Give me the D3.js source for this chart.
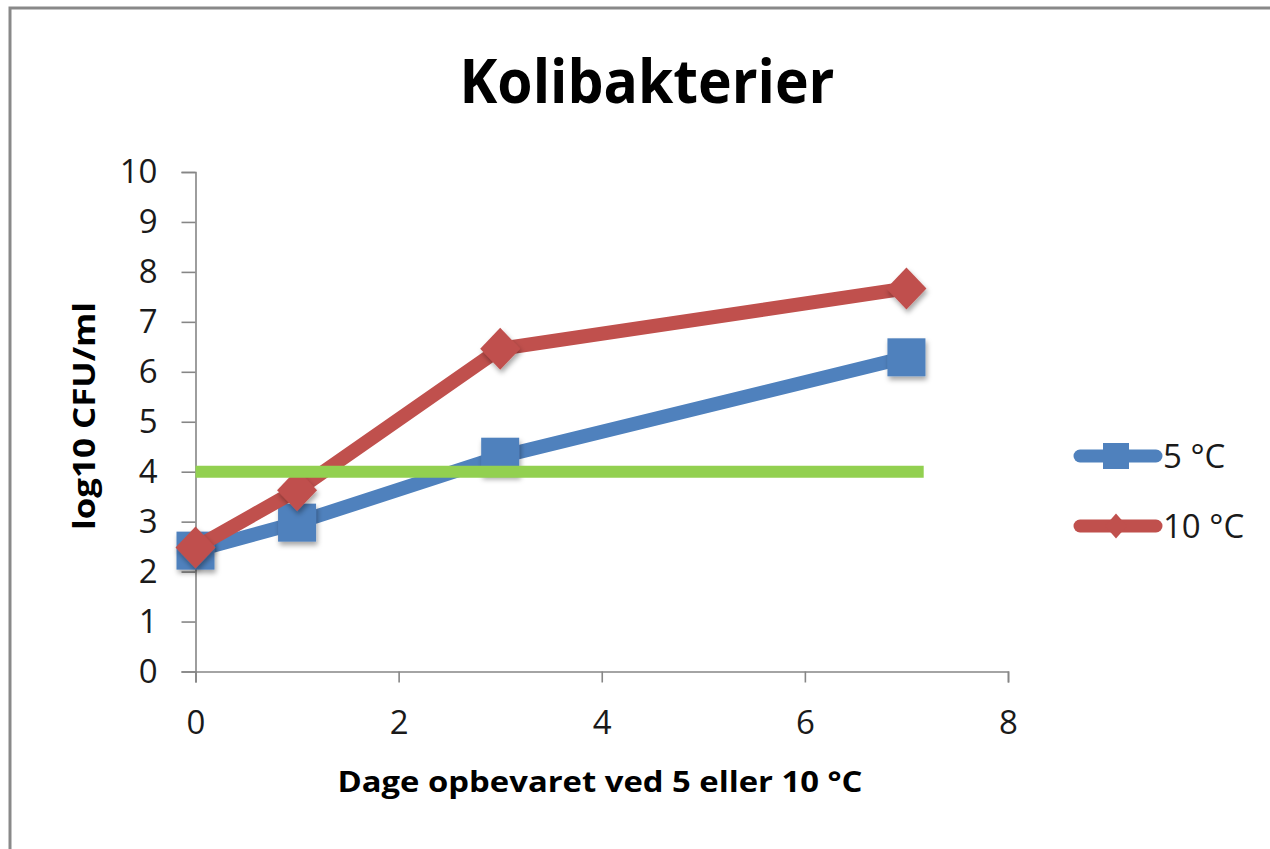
<!DOCTYPE html>
<html>
<head>
<meta charset="utf-8">
<script src="https://cdn.jsdelivr.net/npm/d3@7"></script>
<style>
  html, body { margin: 0; padding: 0; background: #fff; }
  svg { display: block; }
</style>
</head>
<body>
<svg id="chart" width="1270" height="849"></svg>
<script>
// ---- Data ----
const days = [0, 1, 3, 7];
const series5 = [2.42, 2.98, 4.3, 6.29];
const series10 = [2.48, 3.63, 6.46, 7.67];
const seriesNames = ["5 °C", "10 °C"];
const thresholdX = [0, 7.17];
const thresholdY = 4;
const xTicks = [0, 2, 4, 6, 8];
const yTicks = [0, 1, 2, 3, 4, 5, 6, 7, 8, 9, 10];
const titleText = "Kolibakterier";
const xTitle = "Dage opbevaret ved 5 eller 10 °C";
const yTitle = "log10 CFU/ml";

const colors = { s5: "#4F81BD", s10: "#C0504D", thr: "#92D050", axis: "#868686", text: "#1a1a1a" };
const font = "'Open Sans', 'Liberation Sans', sans-serif";

const svg = d3.select("#chart");

// drop shadow filter
const defs = svg.append("defs");
const f = defs.append("filter").attr("id", "shadow").attr("x", "-50%").attr("y", "-50%").attr("width", "200%").attr("height", "200%");
f.append("feDropShadow").attr("dx", 1.5).attr("dy", 3.5).attr("stdDeviation", 2.5).attr("flood-color", "#000").attr("flood-opacity", 0.35);

// outer border
svg.append("rect").attr("x", 10).attr("y", 8).attr("width", 1300).attr("height", 900)
  .attr("fill", "none").attr("stroke", "#898989").attr("stroke-width", 3);

// scales
const x = d3.scaleLinear().domain([0, 8]).range([195.5, 1008]);
const y = d3.scaleLinear().domain([0, 10]).range([671.5, 172]);

// axes
const yAxis = svg.append("g").attr("transform", `translate(${x(0)},0)`)
  .call(d3.axisLeft(y).tickValues(yTicks).tickSize(14).tickPadding(24).tickFormat(d3.format("d")));
const xAxis = svg.append("g").attr("transform", `translate(0,${y(0)})`)
  .call(d3.axisBottom(x).tickValues(xTicks).tickSize(11).tickPadding(28).tickFormat(d3.format("d")));
[yAxis, xAxis].forEach(g => {
  g.select(".domain").attr("stroke", colors.axis).attr("stroke-width", 1.6);
  g.selectAll(".tick line").attr("stroke", colors.axis).attr("stroke-width", 1.6);
  g.selectAll(".tick text").attr("fill", colors.text).style("font-family", font).style("font-size", "33px");
});

// lines
const line = d3.line().x(d => x(d[0])).y(d => y(d[1]));
const d5 = days.map((d, i) => [d, series5[i]]);
const d10 = days.map((d, i) => [d, series10[i]]);

svg.append("path").datum(d5).attr("d", line).attr("fill", "none")
  .attr("stroke", colors.s5).attr("stroke-width", 14).attr("stroke-linejoin", "round").attr("stroke-linecap", "round");
svg.append("g").attr("filter", "url(#shadow)").selectAll("rect").data(d5).join("rect")
  .attr("x", d => x(d[0]) - 19).attr("y", d => y(d[1]) - 19).attr("width", 38).attr("height", 38)
  .attr("fill", colors.s5);

svg.append("path").datum(d10).attr("d", line).attr("fill", "none")
  .attr("stroke", colors.s10).attr("stroke-width", 14).attr("stroke-linejoin", "round").attr("stroke-linecap", "round");
const diamond = (cx, cy, w, h) => `M${cx},${cy - h}L${cx + w},${cy}L${cx},${cy + h}L${cx - w},${cy}Z`;
svg.append("g").attr("filter", "url(#shadow)").selectAll("path").data(d10).join("path")
  .attr("d", d => diamond(x(d[0]), y(d[1]), 20, 21))
  .attr("fill", colors.s10);

// threshold line
svg.append("line")
  .attr("x1", x(thresholdX[0])).attr("x2", x(thresholdX[1]))
  .attr("y1", y(thresholdY)).attr("y2", y(thresholdY))
  .attr("stroke", colors.thr).attr("stroke-width", 12);

// title
svg.append("text").attr("x", 647).attr("y", 103).attr("text-anchor", "middle")
  .attr("textLength", 375).attr("lengthAdjust", "spacingAndGlyphs")
  .style("font-family", font).style("font-weight", "bold").style("font-size", "60px").attr("fill", "#000")
  .text(titleText);

// x title
svg.append("text").attr("x", 600).attr("y", 792).attr("text-anchor", "middle")
  .attr("textLength", 525).attr("lengthAdjust", "spacingAndGlyphs")
  .style("font-family", font).style("font-weight", "bold").style("font-size", "29px").attr("fill", "#000")
  .text(xTitle);

// y title
svg.append("text").attr("transform", "translate(95,416) rotate(-90)").attr("text-anchor", "middle")
  .attr("textLength", 228).attr("lengthAdjust", "spacingAndGlyphs")
  .style("font-family", font).style("font-weight", "bold").style("font-size", "30px").attr("fill", "#000")
  .text(yTitle);

// legend
const legend = svg.append("g");
const legY = [456, 526];
const legColors = [colors.s5, colors.s10];
seriesNames.forEach((name, i) => {
  const g = legend.append("g");
  g.append("line").attr("x1", 1080).attr("x2", 1156).attr("y1", legY[i]).attr("y2", legY[i])
    .attr("stroke", legColors[i]).attr("stroke-width", 13).attr("stroke-linecap", "round");
  if (i === 0) {
    g.append("rect").attr("x", 1103).attr("y", legY[i] - 13).attr("width", 26).attr("height", 26).attr("fill", legColors[i]);
  } else {
    g.append("path").attr("d", diamond(1116, legY[i], 11, 12.5)).attr("fill", legColors[i]);
  }
  g.append("text").attr("x", 1163).attr("y", legY[i] + 11.5)
    .style("font-family", font).style("font-size", "33px").attr("fill", colors.text)
    .text(name);
});
</script>
</body>
</html>
